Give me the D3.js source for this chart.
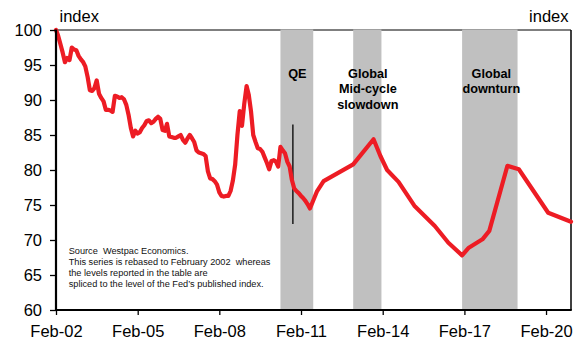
<!DOCTYPE html>
<html>
<head>
<meta charset="utf-8">
<script src="https://cdn.jsdelivr.net/npm/d3@7"></script>
<style>
  html, body { margin: 0; padding: 0; background: #fff; }
  svg { display: block; font-family: "Liberation Sans", Arial, sans-serif; }
  .note { white-space: pre; }
</style>
</head>
<body>
<svg id="chart" width="587" height="341"></svg>
<script>
// Index, rebased to Feb 2002 = 100. Monthly readings first, then sparser later readings.
const monthlyStart = "2002-02";
const monthlyValues = [
  100.0, 99.2, 98.0, 96.8, 95.4, 96.0, 95.7, 97.5, 97.2, 97.1, 96.3, 95.8,
  95.4, 94.8, 93.3, 91.4, 91.3, 91.7, 92.8, 90.9, 90.3, 89.8, 88.6, 88.6,
  88.5, 88.3, 90.6, 90.5, 90.3, 90.4, 90.1, 89.3, 87.9, 86.0, 84.8, 85.6,
  85.2, 85.4, 86.0, 86.4, 87.0, 87.1, 86.7, 86.9, 87.3, 87.6, 87.3, 85.7,
  85.6, 86.6, 84.8, 84.7, 84.6, 84.6, 84.8, 85.0, 84.3, 83.9, 84.5, 85.0,
  84.5, 84.0, 82.8, 82.5, 82.4, 82.3, 82.0, 79.8, 78.8, 78.7, 78.4, 77.9,
  76.8, 76.3, 76.2, 76.3, 76.3, 77.0, 78.5, 80.8, 85.0, 88.4, 86.3, 89.5,
  92.0, 90.8, 88.4, 85.0, 84.0, 83.1, 83.0, 82.6, 81.8, 81.0, 80.1, 81.3,
  81.4, 81.2, 80.5, 83.3, 82.8, 82.4, 81.2, 80.5, 78.6, 77.4, 77.0, 76.7,
  76.3, 76.0, 75.6, 75.1, 74.5
];
const laterDates = [
  "2011-09", "2011-12", "2013-01", "2013-10", "2014-01", "2014-04", "2014-09",
  "2015-04", "2016-01", "2016-07", "2017-01", "2017-04", "2017-10", "2018-01",
  "2018-09", "2019-02", "2020-03", "2021-01"
];
const laterValues = [
  76.9, 78.4, 80.8, 84.4, 82.0, 80.0, 78.3,
  74.9, 72.0, 69.6, 67.8, 68.9, 70.1, 71.3,
  80.6, 80.1, 73.9, 72.6
];

// Shaded episodes
const bandStarts = ["2010-05-01", "2013-01-01", "2017-01-01"];
const bandEnds   = ["2011-07-15", "2014-01-15", "2019-01-15"];
const bandLabels = [["QE"], ["Global", "Mid-cycle", "slowdown"], ["Global", "downturn"]];

// Single vertical marker line
const markerDate = "2010-10-15";
const markerRange = [72.3, 86.5];

// Axes
const yTicks = [60, 65, 70, 75, 80, 85, 90, 95, 100];
const xTickYears = [2002, 2005, 2008, 2011, 2014, 2017, 2020];
const xTickLabels = ["Feb-02", "Feb-05", "Feb-08", "Feb-11", "Feb-14", "Feb-17", "Feb-20"];
const xDomain = ["2002-02-01", "2021-01-01"];
const yDomain = [60, 100];

const sourceLines = [
  "Source  Westpac Economics.",
  "This series is rebased to February 2002  whereas",
  "the levels reported in the table are",
  "spliced to the level of the Fed\u2019s published index."
];

(function draw() {
  const parseDay = d3.timeParse("%Y-%m-%d");
  const parseMonth = d3.timeParse("%Y-%m");

  const series = [];
  const start = parseMonth(monthlyStart);
  monthlyValues.forEach((v, i) => series.push({ date: d3.timeMonth.offset(start, i), value: v }));
  laterDates.forEach((d, i) => series.push({ date: parseMonth(d), value: laterValues[i] }));

  const pL = 56, pR = 571, pT = 30, pB = 310;
  const svg = d3.select("#chart");

  const x = d3.scaleTime().domain(xDomain.map(parseDay)).range([pL, pR]);
  const y = d3.scaleLinear().domain(yDomain).range([pB, pT]);

  const font = '"Liberation Sans", Arial, sans-serif';

  // Plot frame: thin top and right edges
  svg.append("line").attr("x1", pL).attr("x2", pR).attr("y1", pT).attr("y2", pT)
    .attr("stroke", "#000").attr("stroke-width", 1.2);
  svg.append("line").attr("x1", pR).attr("x2", pR).attr("y1", pT).attr("y2", pB)
    .attr("stroke", "#000").attr("stroke-width", 1.5);

  // Shaded bands
  const bands = bandStarts.map((s, i) => ({ s: parseDay(s), e: parseDay(bandEnds[i]), label: bandLabels[i] }));
  svg.append("g").selectAll("rect").data(bands).join("rect")
    .attr("x", d => x(d.s))
    .attr("width", d => x(d.e) - x(d.s))
    .attr("y", pT - 0.5)
    .attr("height", pB - pT)
    .attr("fill", "#c0c0c0");

  // Band labels
  const labelG = svg.append("g");
  bands.forEach(b => {
    const cx = (x(b.s) + x(b.e)) / 2 + (b.label.length === 2 ? 1.5 : 0.5);
    const t = labelG.append("text")
      .attr("x", cx).attr("y", 77.5)
      .attr("text-anchor", "middle")
      .attr("font-family", font).attr("font-weight", "bold")
      .attr("font-size", 12.7).attr("fill", "#000");
    b.label.forEach((ln, j) => {
      t.append("tspan").attr("x", cx).attr("dy", j === 0 ? 0 : 15.5).text(ln);
    });
  });

  // Vertical marker
  svg.append("line")
    .attr("x1", x(parseDay(markerDate))).attr("x2", x(parseDay(markerDate)))
    .attr("y1", y(markerRange[1])).attr("y2", y(markerRange[0]))
    .attr("stroke", "#000").attr("stroke-width", 1.3);

  // Index line
  const line = d3.line().x(d => x(d.date)).y(d => y(d.value));
  svg.append("path").datum(series)
    .attr("d", line)
    .attr("fill", "none")
    .attr("stroke", "#ed1c24")
    .attr("stroke-width", 4.2)
    .attr("stroke-linejoin", "round")
    .attr("stroke-linecap", "round");

  // Y axis
  const yAxis = d3.axisLeft(y).tickValues(yTicks).tickSize(6).tickPadding(8);
  const gy = svg.append("g").attr("transform", `translate(${pL},0)`).call(yAxis);
  gy.select(".domain").remove();
  gy.selectAll(".tick line").attr("stroke", "#000").attr("stroke-width", 1.3);
  gy.selectAll(".tick text").attr("font-family", font).attr("font-size", 16.5).attr("fill", "#000")
    .attr("dy", "0.36em");
  svg.append("line").attr("x1", pL).attr("x2", pL).attr("y1", pT - 0.5).attr("y2", pB + 1)
    .attr("stroke", "#000").attr("stroke-width", 2.2);

  // X axis
  const xTickDates = xTickYears.map(yr => new Date(yr, 1, 1));
  const xAxis = d3.axisBottom(x).tickValues(xTickDates).tickSize(5).tickPadding(6)
    .tickFormat((d, i) => xTickLabels[i]);
  const gx = svg.append("g").attr("transform", `translate(0,${pB})`).call(xAxis);
  gx.select(".domain").remove();
  gx.selectAll(".tick line").attr("stroke", "#000").attr("stroke-width", 1.3);
  gx.selectAll(".tick text").attr("font-family", font).attr("font-size", 16.5).attr("fill", "#000")
    .attr("dy", "0.95em");
  svg.append("line").attr("x1", pL - 1).attr("x2", pR + 0.75).attr("y1", pB).attr("y2", pB)
    .attr("stroke", "#000").attr("stroke-width", 2);

  // Axis unit labels
  svg.append("text").attr("x", 59.5).attr("y", 21.5)
    .attr("font-family", font).attr("font-size", 16.5).attr("fill", "#000").text("index");
  svg.append("text").attr("x", 568.5).attr("y", 21.5).attr("text-anchor", "end")
    .attr("font-family", font).attr("font-size", 16.5).attr("fill", "#000").text("index");

  // Source note (double spaces kept as typed)
  const note = svg.append("text").attr("class", "note").attr("x", 68.7).attr("y", 253.8)
    .attr("xml:space", "preserve")
    .attr("font-family", font).attr("font-size", 9.2).attr("fill", "#111");
  sourceLines.forEach((s, i) => {
    note.append("tspan").attr("x", 68.7).attr("dy", i === 0 ? 0 : 11).text(s);
  });
})();
</script>
</body>
</html>
